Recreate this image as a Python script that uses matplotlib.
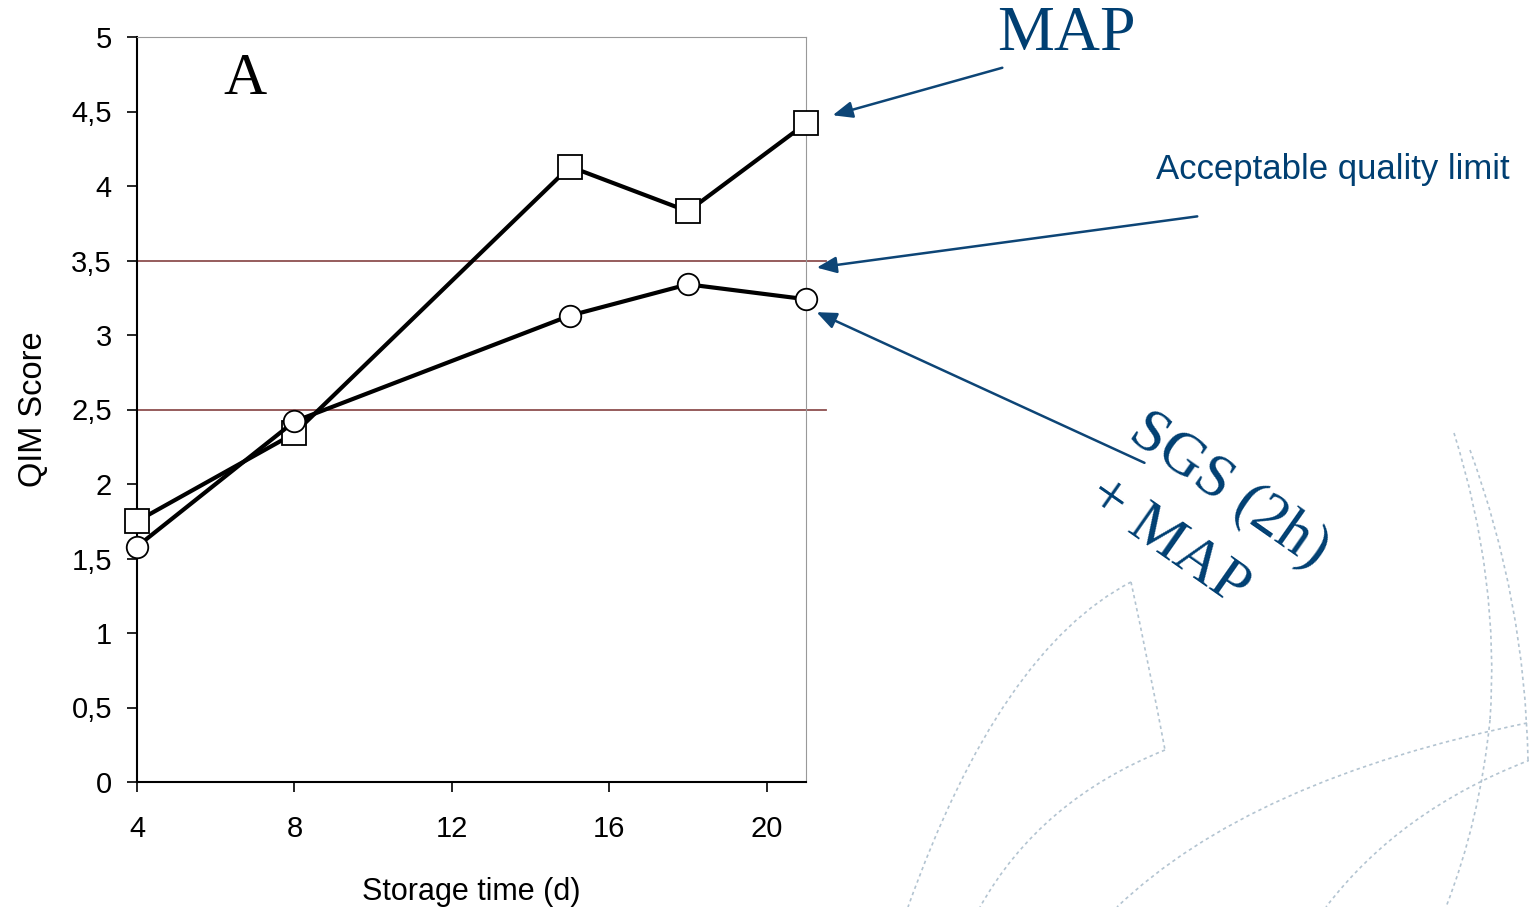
import matplotlib.pyplot as plt
from matplotlib.path import Path
from matplotlib.patches import PathPatch, FancyArrowPatch
from matplotlib.ticker import FuncFormatter

# data
days = [4, 8, 15, 18, 21]
map_score = [1.75, 2.34, 4.13, 3.83, 4.42]
sgs_score = [1.58, 2.42, 3.13, 3.34, 3.24]
limits = [3.5, 2.5]
xticks = [4, 8, 12, 16, 20]
yticks = [0, 0.5, 1, 1.5, 2, 2.5, 3, 3.5, 4, 4.5, 5]

navy = '#003f72'
sans = ['Liberation Sans', 'DejaVu Sans']
serif = ['Liberation Serif', 'DejaVu Serif']

W, H = 1529, 907
fig = plt.figure(figsize=(W / 100, H / 100), dpi=100)
ax = fig.add_axes([137 / W, 125 / H, (806 - 137) / W, (782 - 37) / H])

# decorative dotted background arcs (figure pixels, y from top)
arcs = [
    [(1131, 582), (1000, 650), (908, 907)],
    [(1131, 582), (1150, 670), (1165, 750)],
    [(1165, 750), (1040, 800), (980, 907)],
    [(1527, 723), (1250, 780), (1117, 907)],
    [(1530, 760), (1400, 810), (1326, 907)],
    [(1454, 433), (1500, 580), (1490, 720)],
    [(1490, 720), (1480, 820), (1446, 907)],
    [(1470, 450), (1525, 600), (1528, 760)],
]
for pts in arcs:
    verts = [(x, H - y) for x, y in pts]
    p = Path(verts, [Path.MOVETO, Path.CURVE3, Path.CURVE3])
    fig.patches.append(PathPatch(p, transform=None, fill=False, ec='#b3c4d1',
                                 lw=1.2, ls=(0, (2, 2))))

for lim in limits:
    ax.plot([4, 21.5], [lim, lim], color='#8e4f4f', lw=1.3, clip_on=False, zorder=1)

ax.plot(days, map_score, color='black', lw=3, marker='s', ms=17,
        mfc='white', mec='black', mew=1.3, zorder=3, clip_on=False)
ax.plot(days, sgs_score, color='black', lw=3, marker='o', ms=15.5,
        mfc='white', mec='black', mew=1.3, zorder=3, clip_on=False)

ax.set_xlim(4, 21)
ax.set_ylim(0, 5)
ax.set_xticks(xticks)
ax.set_yticks(yticks)
ax.yaxis.set_major_formatter(FuncFormatter(lambda v, p: ('%g' % v).replace('.', ',')))
ax.tick_params(direction='out', length=7, width=1.2, colors='black', labelsize=21)
ax.tick_params(axis='x', pad=17)
ax.tick_params(axis='y', pad=11)
for lab in ax.get_xticklabels() + ax.get_yticklabels():
    lab.set_family(sans)
ax.spines['left'].set_linewidth(1.5)
ax.spines['bottom'].set_linewidth(1.5)
ax.spines['top'].set_color('#999999')
ax.spines['right'].set_color('#999999')

ax.set_xlabel('Storage time (d)', fontsize=22, family=sans, labelpad=24)
ax.set_ylabel('QIM Score', fontsize=23.5, family=sans, labelpad=16)
ax.text(0.162, 0.978, 'A', transform=ax.transAxes, fontsize=43, family=serif,
        ha='center', va='top')

# annotations
fig.text(1066 / W, 1 - 35 / H, 'MAP', fontsize=46, family=serif, color=navy,
         ha='center', va='center')
fig.text(1333 / W, 1 - 170 / H, 'Acceptable quality limit', fontsize=25,
         family=sans, color=navy, ha='center', va='center')
fig.text(1127 / W, 1 - 437 / H, 'SGS (2h)', fontsize=44, family=serif,
         color=navy, ha='left', va='baseline', rotation=-35, rotation_mode='anchor')
fig.text(1085 / W, 1 - 502 / H, '+ MAP', fontsize=44, family=serif,
         color=navy, ha='left', va='baseline', rotation=-35, rotation_mode='anchor')

arrows = [((1005, 67), (830, 116)), ((1200, 216), (814, 268)), ((1147, 464), (814, 311))]
for (x0, y0), (x1, y1) in arrows:
    fig.patches.append(FancyArrowPatch((x0, H - y0), (x1, H - y1), transform=None,
                                       arrowstyle='-|>,head_length=12,head_width=5',
                                       color='#0d4576', lw=1.8))

fig.savefig('out.png', dpi=100)
